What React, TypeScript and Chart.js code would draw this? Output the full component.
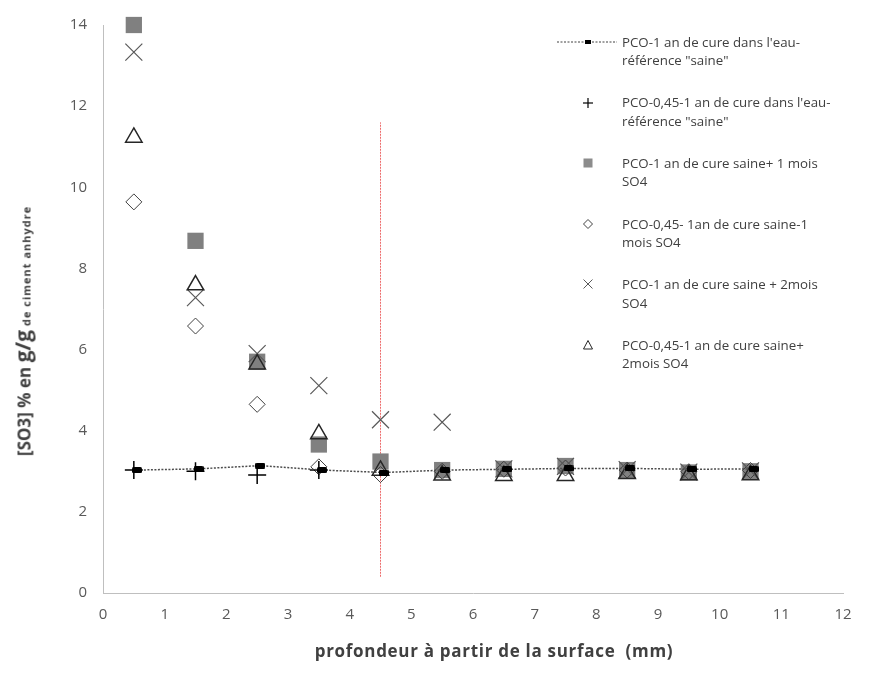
import React, { useEffect, useRef } from "react";
import { Chart, registerables } from "chart.js";
Chart.register(...registerables);

// depths (mm)
const depthX = [0.5, 1.5, 2.5, 3.5, 4.5, 5.5, 6.5, 7.5, 8.5, 9.5, 10.5];
const refX = [0.55, 1.55, 2.55, 3.55, 4.55, 5.55, 6.55, 7.55, 8.55, 9.55, 10.55];
// series values (% SO3)
const refY = [3.03, 3.06, 3.14, 3.03, 2.97, 3.03, 3.05, 3.07, 3.07, 3.05, 3.06];
const plusX = [0.5, 1.5, 2.5, 3.5];
const plusY = [3.03, 3.0, 2.91, 3.03];
const square1mY = [14.0, 8.68, 5.7, 3.66, 3.24, 3.03, 3.06, 3.13, 3.03, 2.97, 3.0];
const diamond1mY = [9.64, 6.58, 4.65, 3.11, 2.92, 3.0, 3.05, 3.08, 3.03, 2.99, 3.02];
const cross2mY = [13.33, 7.28, 5.9, 5.11, 4.27, 4.21, 3.06, 3.12, 3.04, 2.98, 3.01];
const tri2mY = [11.23, 7.59, 5.64, 3.92, 3.02, 2.9, 2.89, 2.89, 2.94, 2.91, 2.91];
const limitX = [4.5, 4.5];
const limitY = [0.4, 11.6];

const legendLabels = [
  ["PCO-1 an de cure dans l'eau-", "référence \"saine\""],
  ["PCO-0,45-1 an de cure dans l'eau-", "référence \"saine\""],
  ["PCO-1 an de cure saine+ 1 mois", "SO4"],
  ["PCO-0,45- 1an de cure saine-1", "mois SO4"],
  ["PCO-1 an de cure saine + 2mois", "SO4"],
  ["PCO-0,45-1 an de cure saine+", "2mois SO4"],
];

const pts = (xs: number[], ys: number[]) => xs.map((x, i) => ({ x, y: ys[i] }));

function LegendMarker({ i }: { i: number }) {
  const c = 38, m = 9;
  let el: any = null;
  if (i === 0)
    el = (
      <g>
        <line x1={7} y1={m} x2={67} y2={m} stroke="#404040" strokeWidth={1} strokeDasharray="2 1.5" />
        <rect x={35} y={m - 2} width={6} height={4} fill="#000" />
      </g>
    );
  else if (i === 1)
    el = (
      <g stroke="#000" strokeWidth={1.2}>
        <line x1={c - 5} y1={m} x2={c + 5} y2={m} />
        <line x1={c} y1={m - 5} x2={c} y2={m + 5} />
      </g>
    );
  else if (i === 2) el = <rect x={c - 4.5} y={m - 4.5} width={9} height={9} fill="#8c8c8c" />;
  else if (i === 3)
    el = (
      <polygon points={`${c - 4.5},${m} ${c},${m - 4.5} ${c + 4.5},${m} ${c},${m + 4.5}`} fill="none" stroke="#404040" strokeWidth={1} />
    );
  else if (i === 4)
    el = (
      <g stroke="#595959" strokeWidth={1}>
        <line x1={c - 4.5} y1={m - 4.5} x2={c + 4.5} y2={m + 4.5} />
        <line x1={c - 4.5} y1={m + 4.5} x2={c + 4.5} y2={m - 4.5} />
      </g>
    );
  else
    el = (
      <polygon points={`${c},${m - 4.5} ${c + 4.5},${m + 4} ${c - 4.5},${m + 4}`} fill="none" stroke="#262626" strokeWidth={1} />
    );
  return (
    <svg width={72} height={18} style={{ display: "block" }}>
      {el}
    </svg>
  );
}

export default function App() {
  const ref = useRef<HTMLCanvasElement>(null);
  useEffect(() => {
    document.body.style.margin = "0";
    const blk = document.createElement("canvas");
    blk.width = 10;
    blk.height = 6;
    const bc = blk.getContext("2d")!;
    bc.fillStyle = "#000";
    bc.beginPath();
    bc.moveTo(1.5, 0);
    bc.lineTo(8.5, 0);
    bc.quadraticCurveTo(10, 0, 10, 1.5);
    bc.lineTo(10, 4.5);
    bc.quadraticCurveTo(10, 6, 8.5, 6);
    bc.lineTo(1.5, 6);
    bc.quadraticCurveTo(0, 6, 0, 4.5);
    bc.lineTo(0, 1.5);
    bc.quadraticCurveTo(0, 0, 1.5, 0);
    bc.fill();

    const tickFont = { family: '"Open Sans", sans-serif', size: 15 };
    const chart = new Chart(ref.current!, {
      type: "scatter",
      data: {
        datasets: [
          {
            label: "limit",
            data: pts(limitX, limitY),
            showLine: true,
            borderColor: "rgba(235,90,90,0.9)",
            borderWidth: 1,
            borderDash: [2, 1],
            pointRadius: 0,
            order: 10,
            clip: false,
          },
          {
            label: legendLabels[2].join(" "),
            data: pts(depthX, square1mY),
            pointStyle: "rect",
            pointRadius: 11.5,
            backgroundColor: "#808080",
            borderColor: "#808080",
            borderWidth: 0,
            order: 6,
            clip: false,
          },
          {
            label: legendLabels[3].join(" "),
            data: pts(depthX, diamond1mY),
            pointStyle: "rectRot",
            pointRadius: 8,
            backgroundColor: "transparent",
            borderColor: "#404040",
            borderWidth: 1,
            order: 5,
            clip: false,
          },
          {
            label: legendLabels[4].join(" "),
            data: pts(depthX, cross2mY),
            pointStyle: "crossRot",
            pointRadius: 12,
            backgroundColor: "transparent",
            borderColor: "#595959",
            borderWidth: 1.2,
            order: 4,
            clip: false,
          },
          {
            label: legendLabels[5].join(" "),
            data: pts(depthX, tri2mY),
            pointStyle: "triangle",
            pointRadius: 9.5,
            backgroundColor: "transparent",
            borderColor: "#262626",
            borderWidth: 1.5,
            order: 3,
            clip: false,
          },
          {
            label: legendLabels[1].join(" "),
            data: pts(plusX, plusY),
            pointStyle: "cross",
            pointRadius: 9,
            backgroundColor: "transparent",
            borderColor: "#000",
            borderWidth: 1.5,
            order: 2,
            clip: false,
          },
          {
            label: legendLabels[0].join(" "),
            data: pts(refX, refY),
            showLine: true,
            borderColor: "#4d4d4d",
            borderWidth: 1.5,
            borderDash: [2, 1.5],
            pointStyle: blk,
            pointRadius: 4,
            order: 1,
            clip: false,
          },
        ],
      },
      options: {
        responsive: false,
        animation: false,
        layout: { padding: { left: 0, right: 27, top: 25, bottom: 0 } },
        plugins: { legend: { display: false }, tooltip: { enabled: false } },
        scales: {
          x: {
            type: "linear",
            min: 0,
            max: 12,
            grid: { display: false, drawTicks: false },
            border: { display: true, color: "#bfbfbf", width: 1 },
            ticks: { stepSize: 1, color: "#595959", font: tickFont, padding: 13 },
            afterFit: (s: any) => {
              s.height = 84;
            },
          },
          y: {
            type: "linear",
            min: 0,
            max: 14,
            grid: { display: false, drawTicks: false },
            border: { display: true, color: "#bfbfbf", width: 1 },
            ticks: { stepSize: 2, color: "#595959", font: tickFont, padding: 16 },
            afterFit: (s: any) => {
              s.width = 103;
            },
          },
        },
      },
    } as any);
    return () => chart.destroy();
  }, []);

  return (
    <div style={{ position: "relative", width: 870, height: 677, fontFamily: '"Open Sans", sans-serif' }}>
      <canvas ref={ref} width={870} height={677} style={{ display: "block" }} />
      <div
        style={{
          position: "absolute",
          left: 23,
          top: 331,
          transform: "translate(-50%, -50%) rotate(-90deg)",
          whiteSpace: "nowrap",
          fontWeight: 700,
          color: "#404040",
          lineHeight: 1,
        }}
      >
        <span style={{ fontSize: 17 }}>[SO3] % en </span>
        <span style={{ fontSize: 21 }}>g/g</span>
        <span style={{ fontSize: 11, letterSpacing: 1 }}> de ciment anhydre</span>
      </div>
      <div
        style={{
          position: "absolute",
          left: 494,
          top: 650,
          transform: "translate(-50%, -50%)",
          whiteSpace: "nowrap",
          fontWeight: 700,
          fontSize: 17,
          letterSpacing: 0.7,
          color: "#404040",
        }}
      >
        profondeur à partir de la surface&nbsp; (mm)
      </div>
      {legendLabels.map((lines, i) => (
        <div
          key={i}
          style={{
            position: "absolute",
            left: 550,
            top: 42 + 60.6 * i - 9.25,
            display: "flex",
            alignItems: "flex-start",
            fontSize: 13.3,
            lineHeight: "18.5px",
            color: "#404040",
            whiteSpace: "nowrap",
          }}
        >
          <div style={{ paddingTop: 0.25 }}>
            <LegendMarker i={i} />
          </div>
          <div>
            {lines[0]}
            <br />
            {lines[1]}
          </div>
        </div>
      ))}
    </div>
  );
}
